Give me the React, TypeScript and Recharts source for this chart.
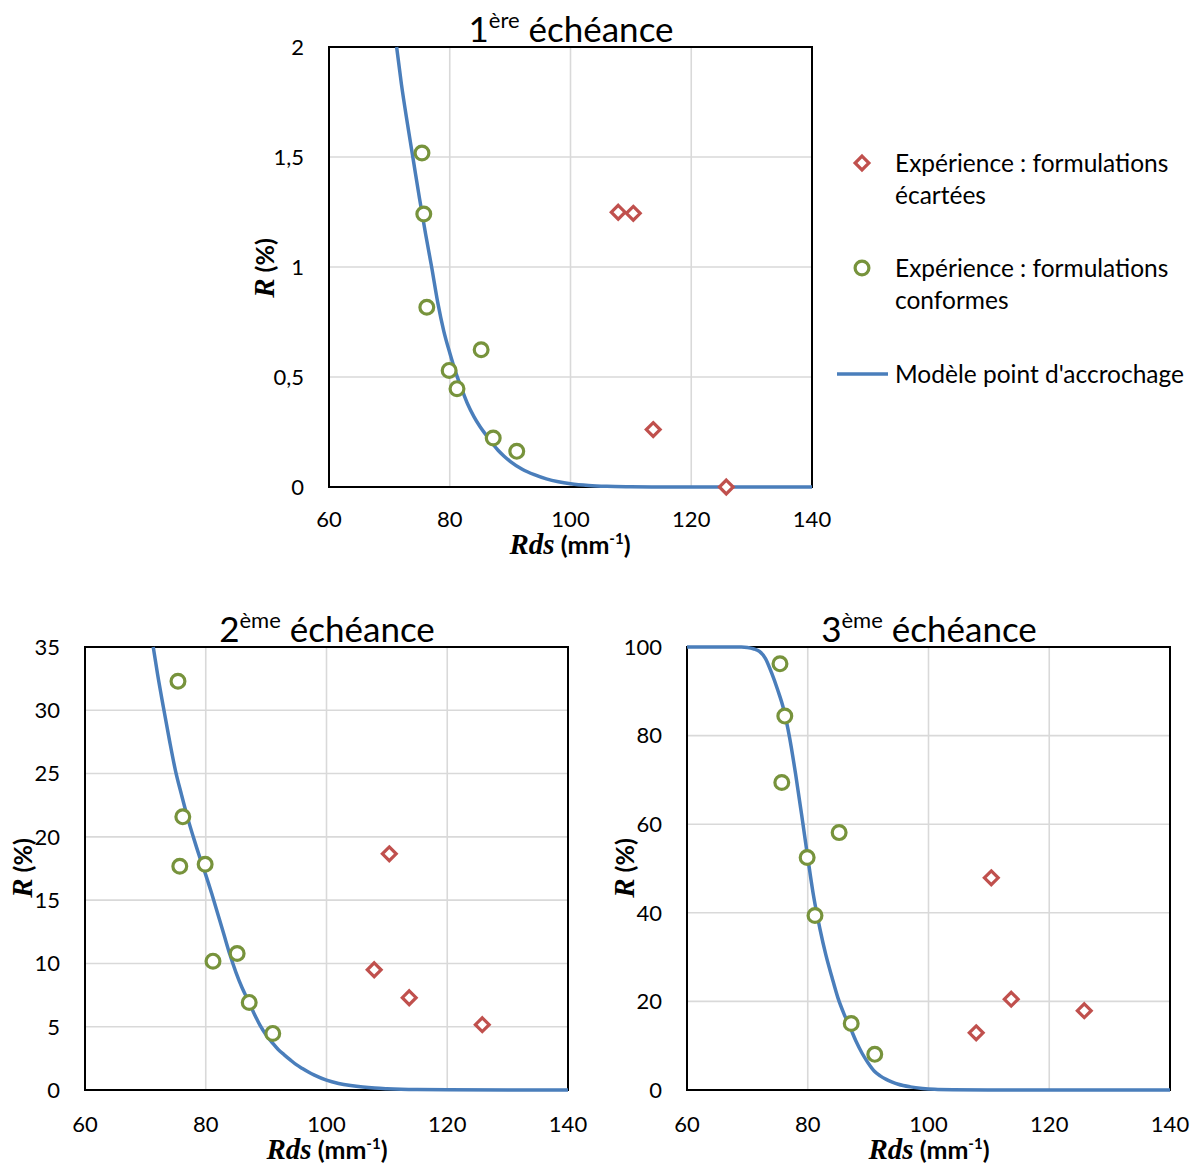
import React from 'react';
import { ScatterChart, Scatter, XAxis, YAxis, CartesianGrid, ReferenceArea } from 'recharts';

// ---------- data ----------
const xTicks = [60, 80, 100, 120, 140];

const greenX = [75.4, 75.7, 76.2, 79.9, 81.2, 85.2, 87.2, 91.1];
const redX = [107.9, 110.4, 113.7, 125.8];

// 1ère échéance
const yTicks1 = [0, 0.5, 1, 1.5, 2];
const green1 = [1.518, 1.241, 0.817, 0.53, 0.447, 0.624, 0.223, 0.162];
const red1 = [1.249, 1.244, 0.261, 0];
const model1X = [71.2, 72, 73, 74, 75, 76, 77, 78, 79, 80, 81, 82, 83, 84, 85, 86, 87, 88, 89, 90, 92, 94, 96, 98, 100, 103, 106, 110, 115, 120, 130, 140];
const model1Y = [2.0, 1.83, 1.65, 1.48, 1.31, 1.15, 1.0, 0.84, 0.71, 0.61, 0.52, 0.445, 0.375, 0.32, 0.275, 0.237, 0.2, 0.167, 0.14, 0.117, 0.081, 0.056, 0.037, 0.024, 0.015, 0.007, 0.003, 0.001, 0, 0, 0, 0];

// 2ème échéance
const yTicks2 = [0, 5, 10, 15, 20, 25, 30, 35];
const green2 = [32.29, 17.68, 21.58, 17.84, 10.18, 10.79, 6.92, 4.47];
const red2 = [9.5, 18.66, 7.29, 5.16];
const model2X = [71.3, 72, 73, 74, 75, 76, 77, 78, 79, 80, 81, 82, 83, 84, 85, 86, 87, 88, 89, 90, 91, 92, 93, 94, 95, 96, 97, 98, 100, 102, 104, 106, 108, 110, 115, 120, 130, 140];
const model2Y = [35, 32.9, 30.2, 27.6, 25.2, 23.3, 21.5, 19.9, 18.4, 17.0, 15.5, 13.9, 12.3, 10.7, 9.3, 8.1, 7.1, 6.05, 5.1, 4.35, 3.75, 3.2, 2.78, 2.38, 2.0, 1.7, 1.42, 1.18, 0.78, 0.52, 0.35, 0.23, 0.15, 0.1, 0.03, 0.01, 0, 0];

// 3ème échéance
const yTicks3 = [0, 20, 40, 60, 80, 100];
const green3 = [96.2, 69.4, 84.4, 52.5, 39.4, 58.1, 15.0, 8.05];
const red3 = [12.9, 47.9, 20.5, 17.9];
const model3X = [60, 66, 69, 70, 71, 72, 73, 74, 75, 76, 77, 78, 79, 80, 81, 82, 83, 84, 85, 86, 87, 88, 89, 90, 91, 92, 93, 94, 95, 97, 99, 101, 104, 110, 140];
const model3Y = [100, 100, 100, 99.9, 99.6, 99.0, 97.4, 94.2, 90.4, 86.0, 79.5, 71.2, 62.0, 52.5, 43.5, 36.5, 30.5, 25.5, 20.8, 17.2, 14.2, 11.0, 8.3, 6.1, 4.3, 3.2, 2.4, 1.8, 1.3, 0.7, 0.35, 0.15, 0.05, 0, 0];

const legendLabels = [
  ['Expérience : formulations', 'écartées'],
  ['Expérience : formulations', 'conformes'],
  ["Modèle point d'accrochage"],
];

// ---------- style ----------
const FONT = 'Lato, "Open Sans", "Noto Sans", sans-serif';
const SERIF = '"Liberation Serif", "DejaVu Serif", serif';
const GREEN = '#77933C';
const RED = '#C0504D';
const BLUE = '#4A7EBB';

const zip = (xs: number[], ys: number[]) => xs.map((x, i) => ({ x, y: ys[i] }));

const CircleMark = (p: any) => (
  <circle cx={p.cx} cy={p.cy} r={6.9} fill="#fff" stroke={GREEN} strokeWidth={3.2} />
);
const diamondPath = (cx: number, cy: number, s: number) =>
  `M${cx},${cy - s}L${cx + s},${cy}L${cx},${cy + s}L${cx - s},${cy}Z`;
const DiamondMark = (p: any) => (
  <path d={diamondPath(p.cx, p.cy, 6.9)} fill="#fff" stroke={RED} strokeWidth={3.2} />
);
const NoMark = () => <g />;

type PanelProps = {
  left: number; top: number; w: number; h: number;
  mTop: number; mRight: number; yw: number; xh: number;
  yMax: number; yTicks: number[]; fmt?: (v: number) => string;
  greenY: number[]; redY: number[]; mX: number[]; mY: number[];
  xTickMargin: number;
};

function Panel(p: PanelProps) {
  const tickStyle = { fill: '#000', fontSize: 22, fontFamily: FONT };
  return (
    <div style={{ position: 'absolute', left: p.left, top: p.top }}>
      <ScatterChart width={p.w} height={p.h} margin={{ top: p.mTop, right: p.mRight, bottom: 0, left: 0 }}>
        <CartesianGrid stroke="#d9d9d9" strokeWidth={1.6} />
        <XAxis type="number" dataKey="x" domain={[60, 140]} ticks={xTicks} interval={0}
          height={p.xh} axisLine={false} tickLine={false} tickSize={0} tickMargin={p.xTickMargin}
          tick={tickStyle} />
        <YAxis type="number" dataKey="y" domain={[0, p.yMax]} ticks={p.yTicks} interval={0}
          width={p.yw} axisLine={false} tickLine={false} tickSize={0} tickMargin={25}
          tick={tickStyle} tickFormatter={p.fmt} />
        <ReferenceArea x1={60} x2={140} y1={0} y2={p.yMax} fill="none" fillOpacity={0}
          stroke="#000" strokeWidth={2} ifOverflow="visible" />
        <Scatter data={zip(p.mX, p.mY)} line={{ stroke: BLUE, strokeWidth: 3.5 }} lineJointType="monotoneX"
          shape={NoMark} isAnimationActive={false} />
        <Scatter data={zip(redX, p.redY)} shape={DiamondMark} isAnimationActive={false} />
        <Scatter data={zip(greenX, p.greenY)} shape={CircleMark} isAnimationActive={false} />
      </ScatterChart>
    </div>
  );
}

function Title({ x, y, num, sup }: { x: number; y: number; num: string; sup: string }) {
  return (
    <text x={x} y={y} textAnchor="middle" fontSize={35} fontFamily={FONT} fill="#000">
      {num}
      <tspan fontSize={22} dy={-14}>{sup}</tspan>
      <tspan dy={14}>{' échéance'}</tspan>
    </text>
  );
}

function XLabel({ x, y }: { x: number; y: number }) {
  return (
    <text x={x} y={y} textAnchor="middle" fontSize={25} fontWeight="bold" fontFamily={FONT} fill="#000">
      <tspan fontFamily={SERIF} fontStyle="italic" fontSize={29}>Rds</tspan>
      <tspan>{' (mm'}</tspan>
      <tspan fontSize={15} dy={-10}>-1</tspan>
      <tspan dy={10}>)</tspan>
    </text>
  );
}

function YLabel({ x, y }: { x: number; y: number }) {
  return (
    <text x={x} y={y + 8} transform={`rotate(-90 ${x} ${y})`} textAnchor="middle" fontSize={25}
      fontWeight="bold" fontFamily={FONT} fill="#000">
      <tspan fontFamily={SERIF} fontStyle="italic" fontSize={29}>R</tspan>
      <tspan>{' (%)'}</tspan>
    </text>
  );
}

export default function App() {
  const fmt1 = (v: number) => String(v).replace('.', ',');
  return (
    <div style={{ position: 'absolute', left: 0, top: 0, width: 1195, height: 1164, background: '#fff', overflow: 'hidden' }}>
      <Panel left={250} top={0} w={945} h={570} mTop={47} mRight={383} yw={79} xh={83}
        yMax={2} yTicks={yTicks1} fmt={fmt1} greenY={green1} redY={red1} mX={model1X} mY={model1Y} xTickMargin={24} />
      <Panel left={0} top={600} w={600} h={564} mTop={47} mRight={32} yw={85} xh={74}
        yMax={35} yTicks={yTicks2} greenY={green2} redY={red2} mX={model2X} mY={model2Y} xTickMargin={26} />
      <Panel left={600} top={600} w={595} h={564} mTop={47} mRight={25} yw={87} xh={74}
        yMax={100} yTicks={yTicks3} greenY={green3} redY={red3} mX={model3X} mY={model3Y} xTickMargin={26} />
      <svg width={1195} height={1164} style={{ position: 'absolute', left: 0, top: 0, pointerEvents: 'none' }}>
        <Title x={571} y={42} num="1" sup="ère" />
        <Title x={327} y={642} num="2" sup="ème" />
        <Title x={929} y={642} num="3" sup="ème" />
        <XLabel x={570} y={554} />
        <XLabel x={327} y={1159} />
        <XLabel x={929} y={1159} />
        <YLabel x={266} y={268} />
        <YLabel x={24} y={868} />
        <YLabel x={626} y={868} />
        {/* legend */}
        <path d={diamondPath(862, 163, 6.9)} fill="#fff" stroke={RED} strokeWidth={3.2} />
        <circle cx={862} cy={268} r={6.9} fill="#fff" stroke={GREEN} strokeWidth={3.2} />
        <line x1={837} y1={374} x2={888} y2={374} stroke={BLUE} strokeWidth={3.5} />
        <g fontFamily={FONT} fontSize={24.5} fill="#000">
          <text x={895} y={172}>{legendLabels[0][0]}</text>
          <text x={895} y={204}>{legendLabels[0][1]}</text>
          <text x={895} y={277}>{legendLabels[1][0]}</text>
          <text x={895} y={309}>{legendLabels[1][1]}</text>
          <text x={895} y={383}>{legendLabels[2][0]}</text>
        </g>
      </svg>
    </div>
  );
}
